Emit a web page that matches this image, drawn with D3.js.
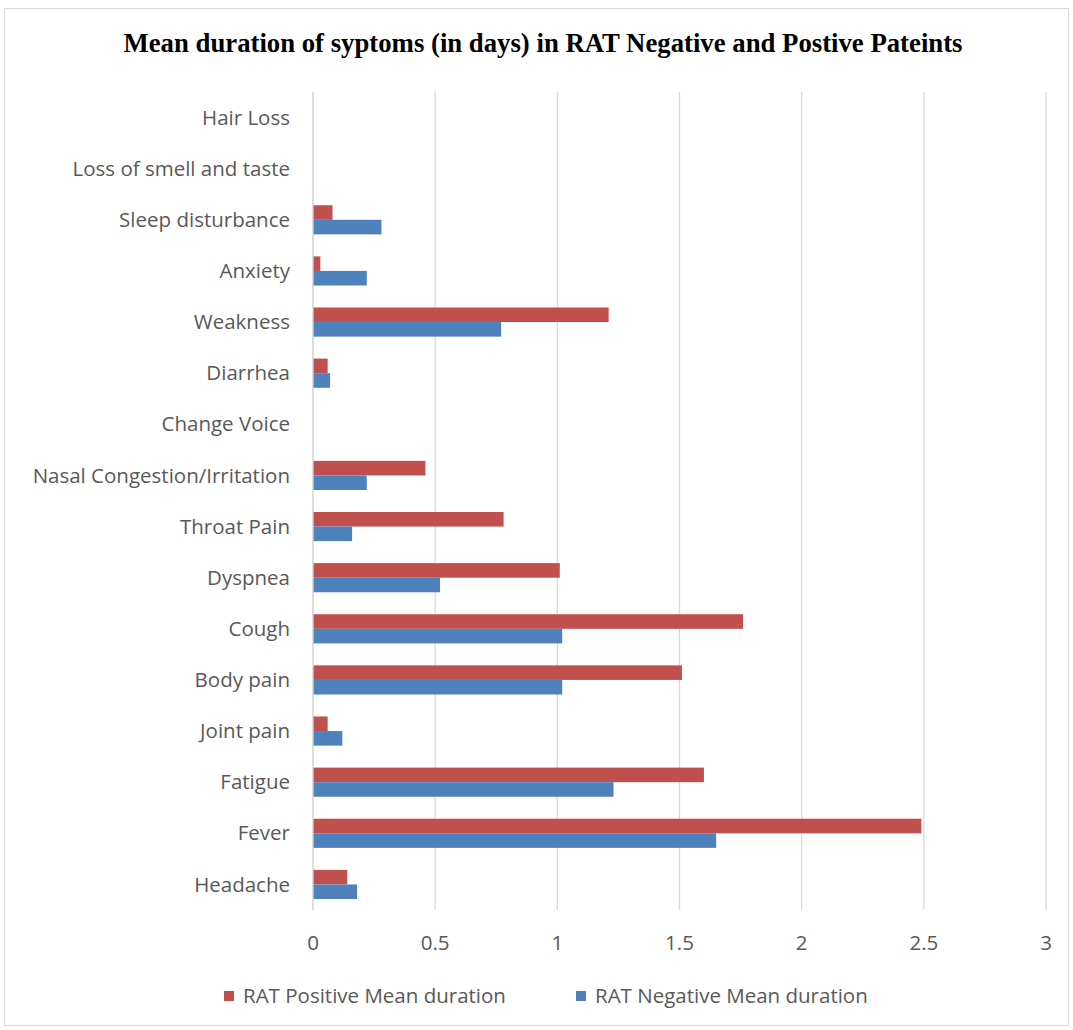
<!DOCTYPE html>
<html lang="en">
<head>
<meta charset="utf-8">
<title>Mean duration of symptoms</title>
<script src="https://d3js.org/d3.v7.min.js"></script>
<style>
  body { margin: 0; background: #fff; }
</style>
</head>
<body>
<script>
// data, top of chart to bottom
var symptoms = ["Hair Loss", "Loss of smell and taste", "Sleep disturbance", "Anxiety", "Weakness",
                "Diarrhea", "Change Voice", "Nasal Congestion/Irritation", "Throat Pain", "Dyspnea",
                "Cough", "Body pain", "Joint pain", "Fatigue", "Fever", "Headache"];
var positiveMean = [0, 0, 0.08, 0.03, 1.21, 0.06, 0, 0.46, 0.78, 1.01, 1.76, 1.51, 0.06, 1.60, 2.49, 0.14];
var negativeMean = [0, 0, 0.28, 0.22, 0.77, 0.07, 0, 0.22, 0.16, 0.52, 1.02, 1.02, 0.12, 1.23, 1.65, 0.18];
var seriesNames = ["RAT Positive Mean duration", "RAT Negative Mean duration"];
var xTicks = [0, 0.5, 1, 1.5, 2, 2.5, 3];

var width = 1073, height = 1030;
var colors = ["#C0504D", "#4F81BD"];
var labelFont = "'Open Sans', 'Noto Sans', sans-serif";
var labelSize = 20.5;

var svg = d3.select("body").append("svg")
    .attr("width", width)
    .attr("height", height);

// chart frame
svg.append("rect")
    .attr("x", 4.5).attr("y", 8.5)
    .attr("width", 1064).attr("height", 1017)
    .attr("fill", "#fff")
    .attr("stroke", "#D9D9D9");

svg.append("text")
    .attr("x", 543).attr("y", 52)
    .attr("text-anchor", "middle")
    .attr("font-family", "'Liberation Serif', 'Times New Roman', serif")
    .attr("font-weight", "bold")
    .attr("font-size", 26.5)
    .attr("textLength", 839)
    .attr("lengthAdjust", "spacingAndGlyphs")
    .attr("fill", "#000")
    .text("Mean duration of syptoms (in days) in RAT Negative and Postive Pateints");

var x = d3.scaleLinear().domain([0, 3]).range([313, 1046]);
var y = d3.scaleBand().domain(symptoms).range([92, 910]).paddingInner(0.43).paddingOuter(0.215);

// gridlines
svg.append("g")
    .selectAll("line")
    .data(xTicks)
    .join("line")
    .attr("x1", d => x(d)).attr("x2", d => x(d))
    .attr("y1", 92).attr("y2", 910)
    .attr("stroke", "#D9D9D9")
    .attr("stroke-width", 1.3);

// tick labels
svg.append("g")
    .selectAll("text")
    .data(xTicks)
    .join("text")
    .attr("x", d => x(d))
    .attr("y", 943)
    .attr("dy", "0.35em")
    .attr("text-anchor", "middle")
    .attr("font-family", labelFont)
    .attr("font-size", labelSize)
    .attr("fill", "#595959")
    .text(d => d);

// category labels
svg.append("g")
    .selectAll("text")
    .data(symptoms)
    .join("text")
    .attr("x", 290)
    .attr("y", d => y(d) + y.bandwidth() / 2)
    .attr("dy", "0.35em")
    .attr("text-anchor", "end")
    .attr("font-family", labelFont)
    .attr("font-size", labelSize)
    .attr("fill", "#595959")
    .text(d => d);

var sub = d3.scaleBand().domain([0, 1]).range([0, y.bandwidth()]);

var rows = symptoms.map((s, i) => ({ name: s, vals: [positiveMean[i], negativeMean[i]] }));

svg.append("g")
    .selectAll("g")
    .data(rows)
    .join("g")
    .attr("transform", d => "translate(0," + y(d.name) + ")")
    .selectAll("rect")
    .data(d => d.vals.map((v, k) => ({ v: v, k: k })).filter(e => e.v > 0))
    .join("rect")
    .attr("x", x(0))
    .attr("y", d => sub(d.k))
    .attr("width", d => x(d.v) - x(0))
    .attr("height", sub.bandwidth())
    .attr("fill", d => colors[d.k]);

// vertical line at zero
svg.append("line")
    .attr("x1", x(0)).attr("x2", x(0))
    .attr("y1", 92).attr("y2", 910)
    .attr("stroke", "#D9D9D9")
    .attr("stroke-width", 1.3);

// legend
var legendX = [224, 576];
var legend = svg.append("g")
    .selectAll("g")
    .data(seriesNames)
    .join("g")
    .attr("transform", (d, i) => "translate(" + legendX[i] + ",996)");

legend.append("rect")
    .attr("x", 0).attr("y", -5)
    .attr("width", 10).attr("height", 10)
    .attr("fill", (d, i) => colors[i]);

legend.append("text")
    .attr("x", 19).attr("y", 0)
    .attr("dy", "0.35em")
    .attr("font-family", labelFont)
    .attr("font-size", labelSize)
    .attr("fill", "#595959")
    .text(d => d);
</script>
</body>
</html>
